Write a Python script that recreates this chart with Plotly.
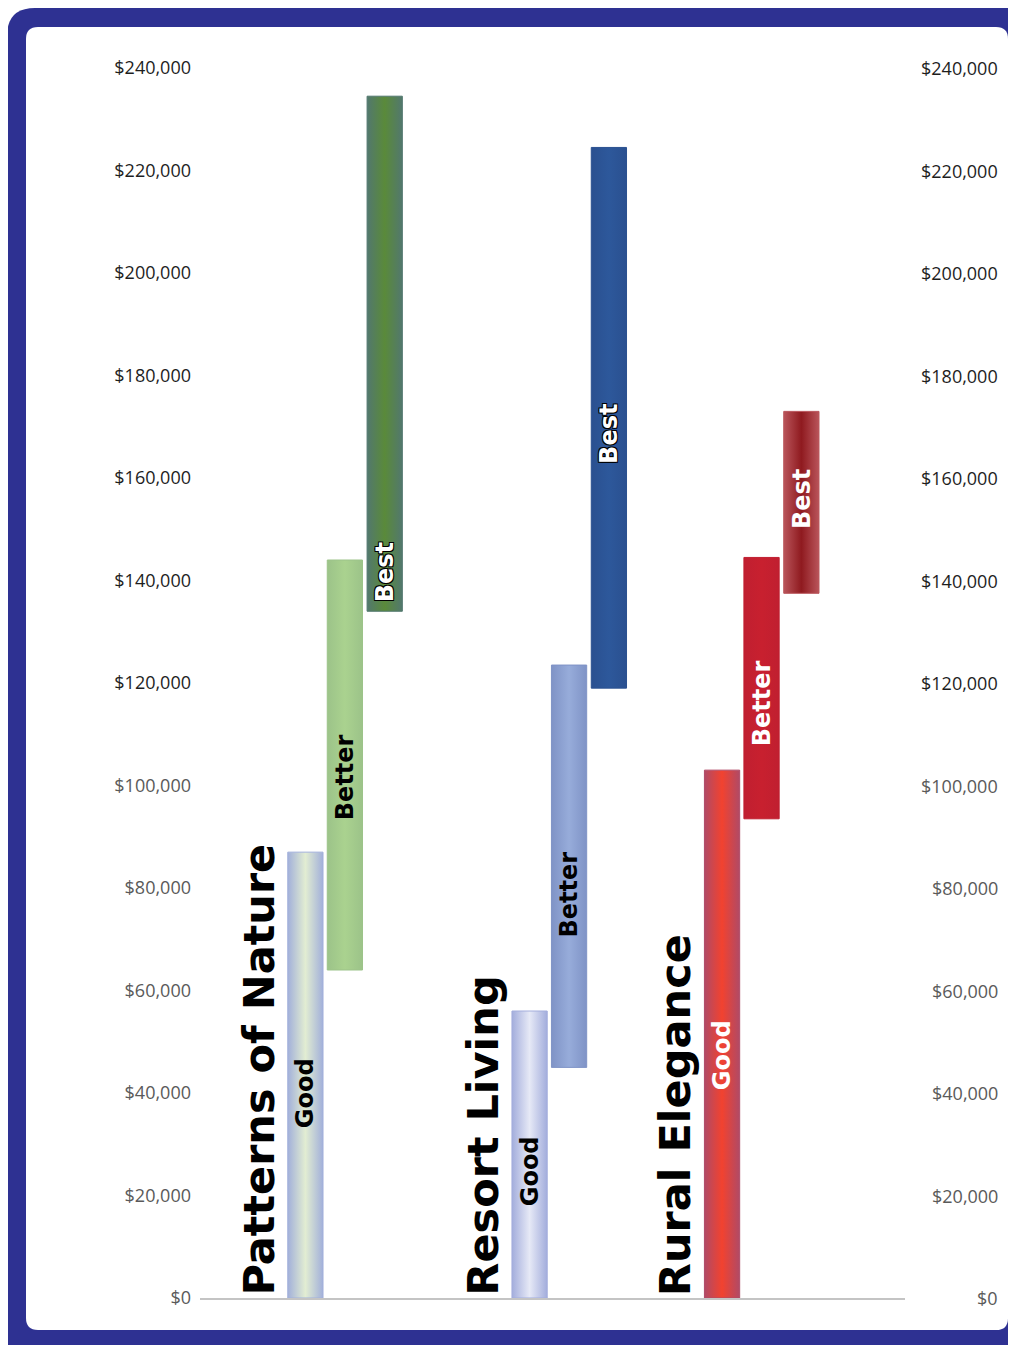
import plotly.graph_objects as go

# ---- data ---------------------------------------------------------------
groups = ["Patterns of Nature", "Resort Living", "Rural Elegance"]
tiers = ["Good", "Better", "Best"]

# price ranges per group, one list per tier (low, high) in dollars
good_low = [0, 0, 0]
good_high = [87000, 56000, 103000]
better_low = [64000, 45000, 93500]
better_high = [144000, 123500, 144500]
best_low = [134000, 119000, 137500]
best_high = [234500, 224500, 173000]

tick_vals = [0, 20000, 40000, 60000, 80000, 100000, 120000,
             140000, 160000, 180000, 200000, 220000, 240000]
tick_text = ["$0", "$20,000", "$40,000", "$60,000", "$80,000", "$100,000", "$120,000",
             "$140,000", "$160,000", "$180,000", "$200,000", "$220,000", "$240,000"]

# ---- layout / style -----------------------------------------------------
OFF = 8                                    # page body margin
W, H = 1016 - OFF, 1345 - OFF
L, R, T, B = 200 - OFF, 905 - OFF, 68 - OFF, 1298 - OFF   # plot area in px
group_pos = [4.11, 10.47, 15.93]           # centre of each group on x axis
tier_off = [-1.12, 0.0, 1.13]
bar_w = 1.0
title_off = -2.45
label_frac = [[0.46, 0.47, 0.075], [0.44, 0.43, 0.47], [0.46, 0.44, 0.52]]

# (edge colour, centre colour, label colour, outlined label)
styles = [
    [("#a2b0da", "#e2edd2", "black", False),
     ("#9cc389", "#aad28f", "black", False),
     ("#52786e", "#5a8a3a", "white", True)],
    [("#a3addc", "#e6e9f6", "black", False),
     ("#7f93c6", "#97acda", "black", False),
     ("#2a5090", "#2d589b", "white", True)],
    [("#b04a66", "#f2422f", "white", False),
     ("#c01f30", "#c8202f", "white", False),
     ("#b9545a", "#8f1a1f", "white", False)],
]
frame_color = "#2e3192"
font_bold = "DejaVu Sans"

lows = [good_low, better_low, best_low]
highs = [good_high, better_high, best_high]

fig = go.Figure()
annotations = []

for gi, g in enumerate(groups):
    for ti, tier in enumerate(tiers):
        lo, hi = lows[ti][gi], highs[ti][gi]
        xc = group_pos[gi] + tier_off[ti]
        x0, x1 = xc - bar_w / 2, xc + bar_w / 2
        edge, centre, lab_col, outline = styles[gi][ti]
        fig.add_trace(go.Scatter(
            x=[x0, x1, x1, x0, x0], y=[lo, lo, hi, hi, lo],
            mode="lines", fill="toself",
            line={"color": edge, "width": 1},
            fillgradient={"type": "horizontal",
                          "colorscale": [[0, edge], [0.5, centre], [1, edge]]},
            name=f"{g} - {tier}", hoverinfo="name", showlegend=False))
        font = {"family": font_bold, "size": 24, "color": lab_col, "weight": "bold"}
        if outline:
            font["shadow"] = ("-1px -1px 0 #000, 1px -1px 0 #000, "
                              "-1px 1px 0 #000, 1px 1px 0 #000")
        annotations.append(dict(
            x=xc, y=lo + (hi - lo) * label_frac[gi][ti], xref="x", yref="y",
            text=f"<b>{tier}</b>", textangle=-90, showarrow=False,
            xanchor="center", yanchor="middle", font=font))
    annotations.append(dict(
        x=group_pos[gi] + title_off, y=0, xref="x", yref="y",
        text=f"<b>{g}</b>", textangle=-90, showarrow=False,
        xanchor="center", yanchor="bottom",
        font={"family": font_bold, "size": 43, "color": "black"}))

# left tick labels: upper ones darker than lower ones
tick_html = [f'<span style="color:{"#1e1e1e" if v >= 120000 else "#5a5a5a"}">{t}</span>'
             for v, t in zip(tick_vals, tick_text)]

# right-hand labels, right aligned
for v, t in zip(tick_vals, tick_text):
    annotations.append(dict(
        x=1, xref="paper", y=v, yref="y", xshift=95, xanchor="right",
        yanchor="middle", showarrow=False, text=t,
        font={"family": "Open Sans", "size": 18,
              "color": "#1e1e1e" if v >= 120000 else "#5a5a5a"}))


# rounded frame drawn in pixel space (reference coords), converted to paper
def px(x, y):
    return (x - OFF - L) / (R - L), (B - (y - OFF)) / (B - T)


def rounded_rect(x0, y0, x1, y1, r):
    pts = [("M", x0 + r, y0), ("L", x1 - r, y0), ("Q", x1, y0, x1, y0 + r),
           ("L", x1, y1 - r), ("Q", x1, y1, x1 - r, y1), ("L", x0 + r, y1),
           ("Q", x0, y1, x0, y1 - r), ("L", x0, y0 + r), ("Q", x0, y0, x0 + r, y0)]
    out = []
    for p in pts:
        cmd, coords = p[0], p[1:]
        seg = []
        for i in range(0, len(coords), 2):
            a, b = px(coords[i], coords[i + 1])
            seg.append(f"{a:.5f},{b:.5f}")
        out.append(cmd + " ".join(seg))
    return " ".join(out) + " Z"


shapes = [
    dict(type="path", xref="paper", yref="paper", layer="below",
         path=rounded_rect(7, 8, 1045, 1370, 28),
         fillcolor=frame_color, line={"width": 0}),
    dict(type="path", xref="paper", yref="paper", layer="below",
         path=rounded_rect(26, 27, 1008, 1330, 12),
         fillcolor="white", line={"width": 0}),
]

fig.update_layout(
    width=W, height=H,
    margin={"l": L, "r": W - R, "t": T, "b": H - B},
    paper_bgcolor="white", plot_bgcolor="rgba(0,0,0,0)",
    showlegend=False, annotations=annotations, shapes=shapes,
    font={"family": "Open Sans"},
)
fig.update_xaxes(range=[0, 20], showticklabels=False, showgrid=False,
                 zeroline=False, showline=True, linecolor="#c4c4c4",
                 linewidth=2, ticks="")
fig.update_yaxes(range=[0, 240000], tickvals=tick_vals, ticktext=tick_html,
                 tickfont={"family": "Open Sans", "size": 18},
                 showgrid=False, zeroline=False, showline=False,
                 ticks="", ticklabelstandoff=8)

fig.write_html("out.html")
